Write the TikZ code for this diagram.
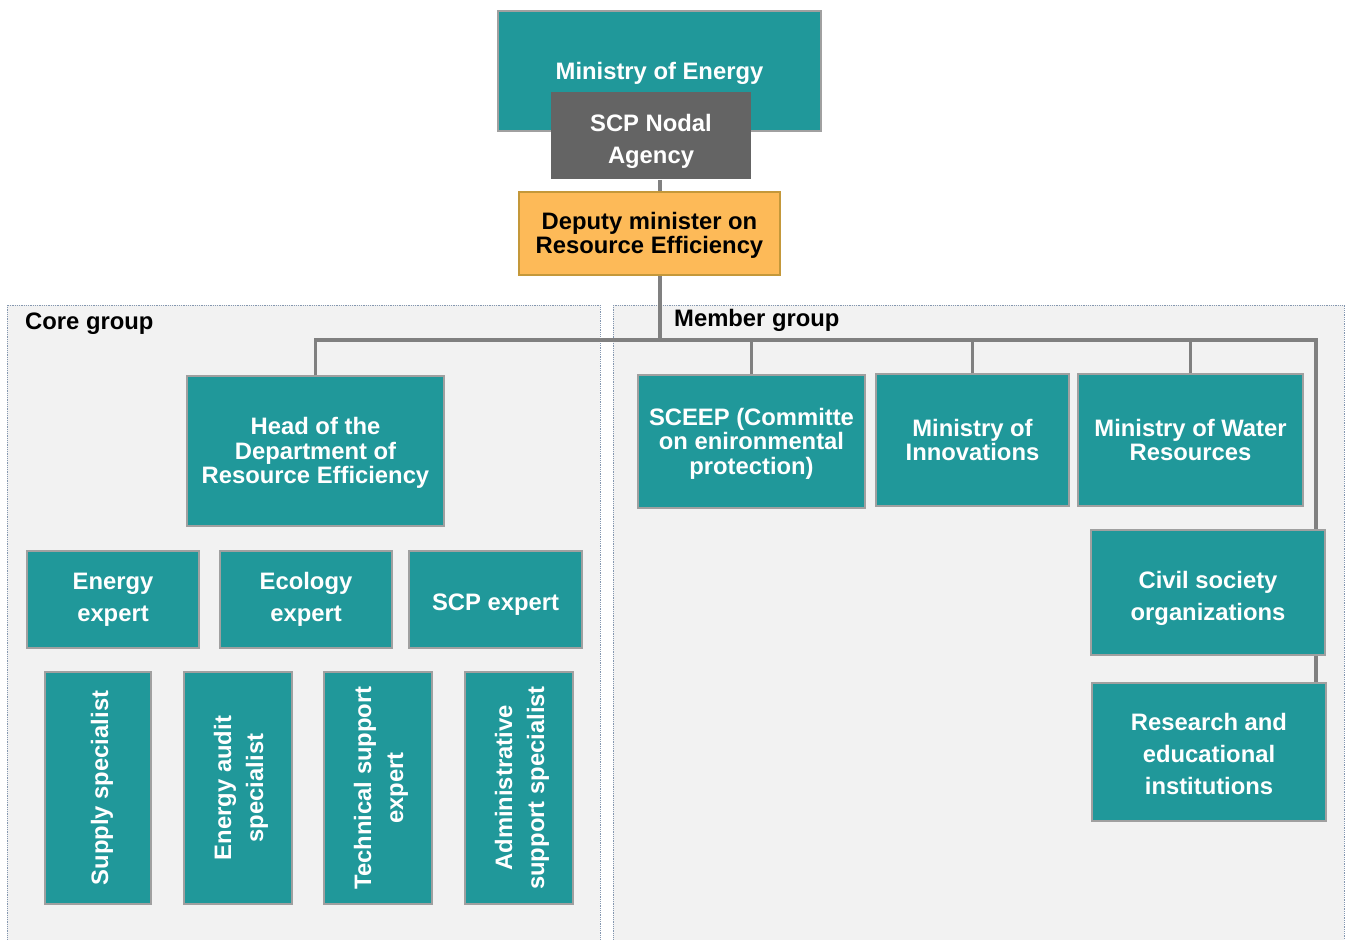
\documentclass[tikz,border=0pt]{standalone}
\usepackage{fontspec}
\setmainfont{Liberation Sans}
\usetikzlibrary{positioning}
\definecolor{orgteal}{RGB}{32,152,154}
\definecolor{boxline}{RGB}{160,160,160}
\definecolor{nodalgray}{RGB}{100,100,100}
\definecolor{deputyfill}{RGB}{253,186,88}
\definecolor{deputyline}{RGB}{196,152,58}
\definecolor{grpfill}{RGB}{242,242,242}
\definecolor{grpline}{RGB}{132,151,176}
\definecolor{linkgray}{RGB}{128,128,128}
\newcommand{\sinkto}[1]{\rule{0pt}{#1pt}}

\begin{document}
\begin{tikzpicture}[x=1pt, y=-1pt,
    box/.style={draw=boxline, line width=1.5pt, fill=orgteal, text=white, align=center,
      inner sep=0pt, font=\bfseries\fontsize{23.8}{24.5}\selectfont},
    loose/.style={font=\bfseries\fontsize{23.8}{32}\selectfont},
    grp/.style={draw=grpline, densely dotted, line width=0.8pt, fill=grpfill},
    grplabel/.style={anchor=west, inner sep=0pt, font=\bfseries\fontsize{23.8}{24.5}\selectfont},
    link/.style={draw=linkgray, line width=3.5pt}]
  \useasboundingbox (0,0) rectangle (1348,939);
  \draw[grp] (7,305) rectangle (600,945);
  \draw[grp] (613,305) rectangle (1344,945);
  \node[grplabel] (corelbl) at (25,324) {Core group};
  \node[grplabel] (memberlbl) at (674,320) {Member group};

  \node[box, minimum width=323, minimum height=120] (ministry) at (659.5,71) {\sinkto{21.4}Ministry of Energy};
  \node[box, loose, draw=none, fill=nodalgray, minimum width=200, minimum height=87] (nodal) at (651,135.5) {\sinkto{28.4}SCP Nodal\\Agency};
  \node[box, draw=deputyline, fill=deputyfill, text=black, minimum width=261, minimum height=83] (deputy) at (649.5,233.5) {\sinkto{21.4}Deputy minister on\\Resource Efficiency};

  \node[box, minimum width=257, minimum height=150] (head) at (315.5,451) {\sinkto{21.4}Head of the\\Department of\\Resource Efficiency};
  \node[box, loose, minimum width=172, minimum height=97] (energy) at (113,599.5) {Energy\\expert};
  \node[box, loose, minimum width=172, minimum height=97] (ecology) at (306,599.5) {Ecology\\expert};
  \node[box, loose, minimum width=173, minimum height=97] (scpexp) at (495.5,599.5) {\sinkto{27.4}SCP expert};
  \node[box, loose, rotate=90, minimum width=232, minimum height=106] (supply) at (98,788) {\sinkto{25.4}Supply specialist};
  \node[box, loose, rotate=90, minimum width=232, minimum height=108] (audit) at (238,788) {\sinkto{23.4}Energy audit\\specialist};
  \node[box, loose, rotate=90, minimum width=232, minimum height=108] (tech) at (378,788) {\sinkto{23.4}Technical support\\expert};
  \node[box, loose, rotate=90, minimum width=232, minimum height=108] (admin) at (519,788) {\sinkto{23.4}Administrative\\support specialist};

  \node[box, minimum width=227, minimum height=133] (sceep) at (751.5,441.5) {\sinkto{21.4}SCEEP (Committe\\on enironmental\\protection)};
  \node[box, minimum width=193, minimum height=132] (innov) at (972.5,440) {Ministry of\\Innovations};
  \node[box, minimum width=225, minimum height=132] (water) at (1190.5,440) {Ministry of Water\\Resources};
  \node[box, loose, minimum width=234, minimum height=125] (civil) at (1208,592.5) {\sinkto{29.4}Civil society\\organizations};
  \node[box, loose, minimum width=234, minimum height=138] (research) at (1209,752) {\sinkto{21.4}Research and\\educational\\institutions};

  \coordinate (hub) at (660,340);
  \coordinate (hubR) at (1316,340);
  \draw[link] (hub |- nodal.south) -- (hub |- deputy.north);
  \draw[link] (hub |- deputy.south) -- (hub);
  \draw[link] (head.north) -- (head.north |- hub) -- (hubR) -- (hubR |- civil.north);
  \draw[link] (hubR |- civil.south) -- (hubR |- research.north);
  \foreach \n in {sceep,innov,water}
    \draw[link] (\n.north) -- (\n.north |- hub);
\end{tikzpicture}
\end{document}
